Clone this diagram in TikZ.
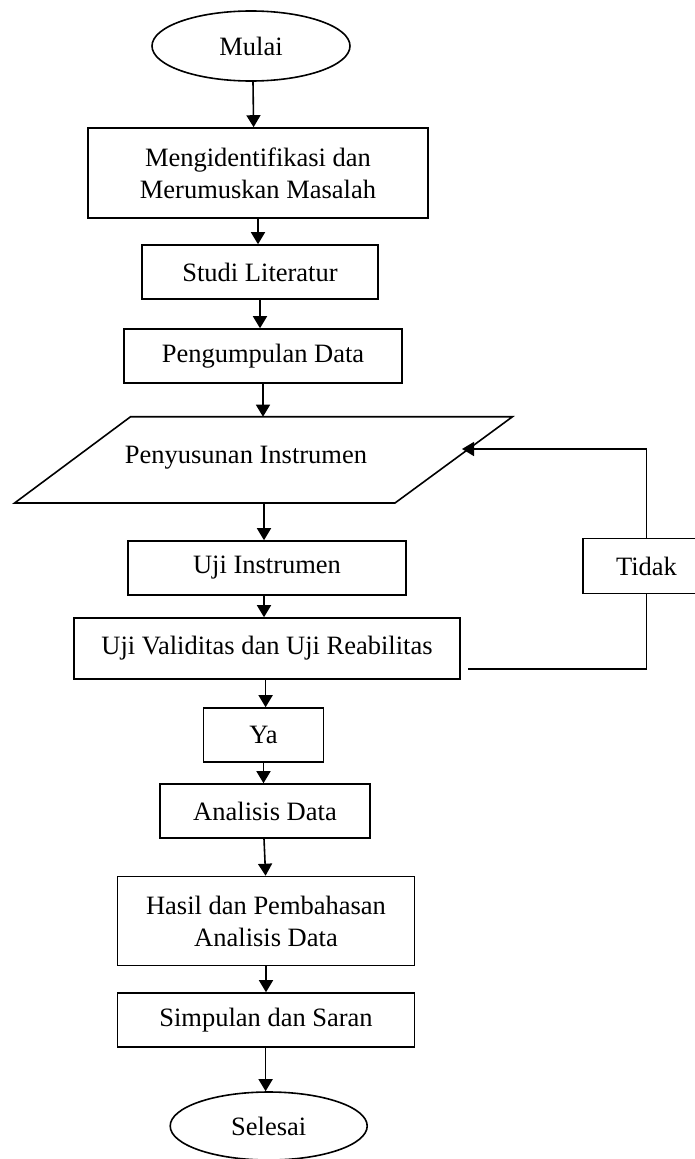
\documentclass[tikz,border=0pt]{standalone}
\usepackage{fontspec}
\setmainfont{Liberation Serif}
\usetikzlibrary{shapes.geometric,arrows.meta}
\begin{document}
\begin{tikzpicture}[x=1pt,y=-1pt,
  every node/.style={font=\fontsize{26.5}{32}\selectfont, inner sep=0pt, align=center},
  box/.style={draw, line width=1.6pt},
  oval/.style={draw, ellipse, line width=1.6pt},
  ln/.style={line width=1.6pt},
  arr/.style={line width=1.6pt, -{Triangle[length=12pt,width=14pt]}}]
\useasboundingbox (0,0) rectangle (694,1159);
\node[oval, minimum width=198, minimum height=70] (mulai) at (251,46) {Mulai};
\node[box, minimum width=340, minimum height=90] (ident) at (258,173) {Mengidentifikasi dan\\Merumuskan Masalah};
\node[box, minimum width=236, minimum height=54] (studi) at (260,272) {Studi Literatur};
\node[box, minimum width=278, minimum height=54] (kumpul) at (263,356) {Pengumpulan Data};
\coordinate (pTL) at (130.6,416.7);
\coordinate (pTR) at (512.5,416.7);
\coordinate (pBR) at (395,503);
\coordinate (pBL) at (14.6,503);
\draw[ln, line join=miter] (pTL) -- (pTR) -- (pBR) -- (pBL) -- cycle;
\node (susun) at (246,458) {Penyusunan Instrumen};
\coordinate (pOut) at (264,503);
\coordinate (pIn) at (462,449);
\node[box, minimum width=278, minimum height=54] (ujiins) at (267,568) {Uji Instrumen};
\node[box, minimum width=386, minimum height=61] (ujival) at (267,648.5) {Uji Validitas dan Uji Reabilitas};
\node[box, minimum width=127, minimum height=55] (tidak) at (646.5,566) {Tidak};
\node[box, minimum width=120, minimum height=54] (ya) at (263.5,735) {Ya};
\node[box, minimum width=210, minimum height=54] (analisis) at (265,811) {Analisis Data};
\node[box, minimum width=297, minimum height=89] (hasil) at (266,921) {Hasil dan Pembahasan\\Analisis Data};
\node[box, minimum width=297, minimum height=54] (simpulan) at (266,1020) {Simpulan dan Saran};
\node[oval, minimum width=197, minimum height=68] (selesai) at (268.7,1126) {Selesai};
\coordinate (fbStart) at (468,669);
\draw[arr] (mulai.south) ++(2,0) -- (ident.north -| 253.6,0);
\draw[arr] (ident.south) -- (ident.south |- studi.north);
\draw[arr] (studi.south) -- (studi.south |- kumpul.north);
\draw[arr] (kumpul.south) -- (kumpul.south |- pTL);
\draw[arr] (pOut) -- (pOut |- ujiins.north);
\draw[arr] (ujiins.south -| 264,0) -- (ujival.north -| 264,0);
\draw[arr] (ujival.south -| 265.6,0) -- (ya.north -| 265.6,0);
\draw[arr] (ya.south) -- (ya.south |- analisis.north);
\draw[arr] (analisis.south -| 264,0) -- (hasil.north -| 265.6,0);
\draw[arr] (hasil.south) -- (hasil.south |- simpulan.north);
\draw[arr] (simpulan.south -| 265.6,0) -- (selesai.north -| 265.6,0);
\draw[ln] (fbStart) -- (fbStart -| tidak.south) -- (tidak.south);
\draw[arr] (tidak.north) -- (tidak.north |- pIn) -- (pIn);
\end{tikzpicture}
\end{document}
